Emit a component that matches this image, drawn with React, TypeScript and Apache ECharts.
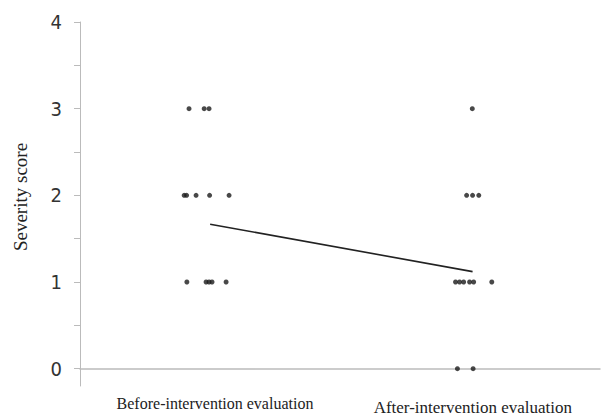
import React, { useEffect, useRef } from "react";
import * as echarts from "echarts";

const categories = ["Before-intervention evaluation", "After-intervention evaluation"];
const categoryPositions = [1.055, 2.008];

const beforePoints: [number, number][] = [
  [0.959, 3], [1.015, 3], [1.033, 3],
  [0.941, 2], [0.95, 2], [0.985, 2], [1.035, 2], [1.107, 2],
  [0.951, 1], [1.022, 1], [1.033, 1], [1.044, 1], [1.096, 1],
];
const afterPoints: [number, number][] = [
  [2.006, 3],
  [1.985, 2], [2.007, 2], [2.03, 2],
  [1.944, 1], [1.959, 1], [1.974, 1], [1.996, 1], [2.011, 1], [2.078, 1],
  [1.951, 0], [2.009, 0],
];
const trendLine: [number, number][] = [
  [1.037, 1.667],
  [2.007, 1.12],
];
const yLabels = [0, 1, 2, 3, 4];
const yTicks = [0, 0.5, 1, 1.5, 2, 2.5, 3, 3.5, 4];

export default function App() {
  const ref = useRef<HTMLDivElement>(null);
  useEffect(() => {
    document.body.style.margin = "0";
    if (!ref.current) return;
    const chart = echarts.init(ref.current, null, { renderer: "svg" });
    chart.setOption({
      animation: false,
      backgroundColor: "#ffffff",
      grid: { left: 80, right: 1, top: 22, bottom: 27 },
      xAxis: {
        type: "value",
        min: 0.556,
        max: 2.478,
        splitLine: { show: false },
        axisLine: { show: true, lineStyle: { color: "#bbbbbb", width: 1.5 } },
        axisTick: { show: false },
        axisLabel: {
          customValues: categoryPositions,
          formatter: (v: number) => {
            const i = categoryPositions.findIndex((p) => Math.abs(p - v) < 1e-6);
            if (i < 0) return "";
            return i === 0 ? `{b|${categories[i]}}` : `{a|${categories[i]}}`;
          },
          margin: 9,
          color: "#222",
          fontFamily: "Liberation Serif, Times New Roman, serif",
          fontSize: 16,
          rich: {
            b: {
              fontFamily: "Liberation Serif, Times New Roman, serif",
              fontSize: 16,
              color: "#222",
            },
            a: {
              fontFamily: "Liberation Serif, Times New Roman, serif",
              fontSize: 17,
              color: "#222",
              padding: [4, 0, 0, 0],
            },
          },
        },
      },
      yAxis: {
        type: "value",
        min: -0.2,
        max: 4,
        name: "Severity score",
        nameLocation: "middle",
        nameGap: 50,
        nameRotate: 90,
        nameTextStyle: {
          color: "#222",
          fontFamily: "Liberation Serif, Times New Roman, serif",
          fontSize: 19,
          padding: [0, 0, 0, 14],
        },
        splitLine: { show: false },
        axisLine: { show: true, lineStyle: { color: "#bbbbbb", width: 1 } },
        axisTick: {
          show: true,
          customValues: yTicks,
          length: 6,
          lineStyle: { color: "#bbbbbb" },
        },
        axisLabel: {
          customValues: yLabels,
          margin: 18,
          color: "#333",
          fontFamily: "DejaVu Sans Condensed, Liberation Sans Narrow, sans-serif",
          fontSize: 20,
        },
      },
      series: [
        {
          type: "scatter",
          data: beforePoints,
          symbolSize: 5,
          itemStyle: { color: "#1a1a1a" },
        },
        {
          type: "scatter",
          data: afterPoints,
          symbolSize: 5,
          itemStyle: { color: "#1a1a1a" },
        },
        {
          type: "line",
          data: trendLine,
          symbol: "none",
          lineStyle: { color: "#222", width: 1.6 },
        },
      ],
    });
    return () => chart.dispose();
  }, []);
  return <div ref={ref} style={{ width: 601, height: 416 }} />;
}
